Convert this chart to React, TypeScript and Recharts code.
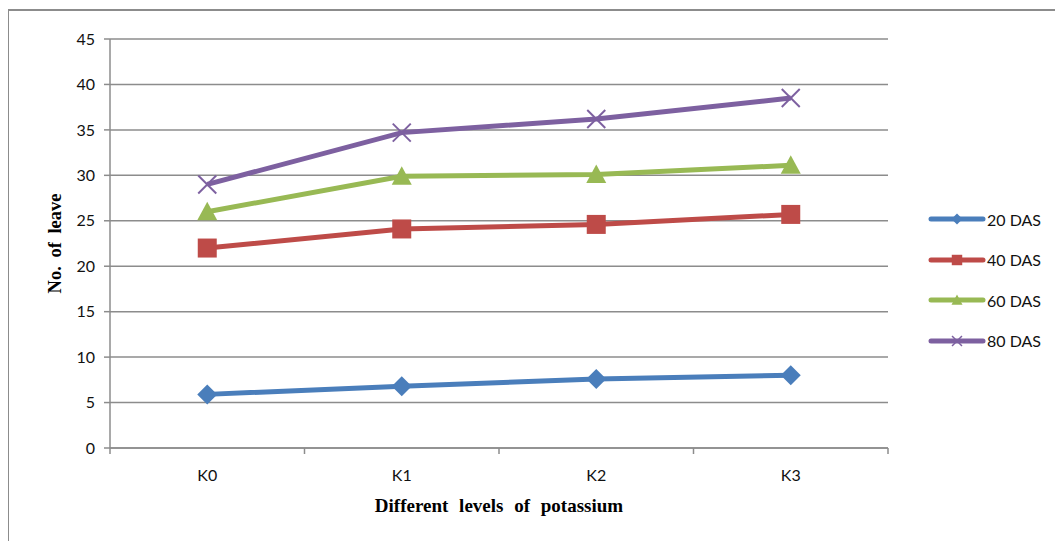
import { LineChart, Line, XAxis, YAxis, CartesianGrid, Legend } from 'recharts';

// Leaf counts per potassium level, one array per sampling date
const levels = ['K0', 'K1', 'K2', 'K3'];
const das20 = [5.9, 6.8, 7.6, 8.0];
const das40 = [22.0, 24.1, 24.6, 25.7];
const das60 = [26.0, 29.9, 30.1, 31.1];
const das80 = [29.0, 34.7, 36.2, 38.5];
const yTicks = [0, 5, 10, 15, 20, 25, 30, 35, 40, 45];

const GRID = '#8c8c8c';
const TICK_FONT = 'Lato, "Open Sans", sans-serif';
const TITLE_FONT = '"Liberation Serif", "Times New Roman", serif';

type Marker = 'diamond' | 'square' | 'triangle' | 'cross';

const series: { key: string; name: string; color: string; marker: Marker }[] = [
  { key: 's20', name: '20 DAS', color: '#4a7ebb', marker: 'diamond' },
  { key: 's40', name: '40 DAS', color: '#be4b48', marker: 'square' },
  { key: 's60', name: '60 DAS', color: '#98b954', marker: 'triangle' },
  { key: 's80', name: '80 DAS', color: '#7d60a0', marker: 'cross' },
];

// each category sits in the middle of its unit-wide slot on a numeric axis
const data = levels.map((level, i) => ({
  level,
  pos: i + 0.5,
  s20: das20[i],
  s40: das40[i],
  s60: das60[i],
  s80: das80[i],
}));

// integer ticks mark slot boundaries, half ticks carry the labels
const xTicks = [...levels.flatMap((_, i) => [i, i + 0.5]), levels.length];

function MarkerShape({ type, cx, cy, color, scale = 1 }: { type: Marker; cx: number; cy: number; color: string; scale?: number }) {
  const s = scale;
  if (type === 'diamond') {
    const r = 10 * s;
    return <polygon points={`${cx},${cy - r} ${cx + r},${cy} ${cx},${cy + r} ${cx - r},${cy}`} fill={color} />;
  }
  if (type === 'square') {
    const r = 9.5 * s;
    return <rect x={cx - r} y={cy - r} width={r * 2} height={r * 2} fill={color} />;
  }
  if (type === 'triangle') {
    return (
      <polygon
        points={`${cx},${cy - 10 * s} ${cx + 10 * s},${cy + 8.5 * s} ${cx - 10 * s},${cy + 8.5 * s}`}
        fill={color}
      />
    );
  }
  const r = 9 * s;
  return (
    <g stroke={color} strokeWidth={2 * Math.max(s, 0.75)}>
      <line x1={cx - r} y1={cy - r} x2={cx + r} y2={cy + r} />
      <line x1={cx - r} y1={cy + r} x2={cx + r} y2={cy - r} />
    </g>
  );
}

function makeDot(type: Marker, color: string) {
  return (props: any) => {
    const { cx, cy, index } = props;
    if (cx == null || cy == null) return <g key={`d-${index}`} />;
    return (
      <g key={`${type}-${index}`}>
        <MarkerShape type={type} cx={cx} cy={cy} color={color} />
      </g>
    );
  };
}

function LevelTick({ x, y, payload }: any) {
  const v = payload.value as number;
  if (Number.isInteger(v)) {
    return <line x1={x} y1={y - 6} x2={x} y2={y} stroke={GRID} strokeWidth={1.5} />;
  }
  return (
    <text x={x} y={y + 27} textAnchor="middle" fill="#111" fontSize={16} fontFamily={TICK_FONT}>
      {levels[Math.floor(v)]}
    </text>
  );
}

function YTitle({ viewBox }: any) {
  const cx = viewBox.x + 35;
  const cy = viewBox.y + viewBox.height / 2;
  return (
    <text
      x={cx}
      y={cy}
      transform={`rotate(-90 ${cx} ${cy})`}
      textAnchor="middle"
      dominantBaseline="central"
      fontFamily={TITLE_FONT}
      fontWeight="bold"
      fontSize={18.5}
      wordSpacing={4}
      fill="#000"
    >
      No. of leave
    </text>
  );
}

function XTitle({ viewBox }: any) {
  return (
    <text
      x={viewBox.x + viewBox.width / 2}
      y={viewBox.y + 57}
      textAnchor="middle"
      dominantBaseline="central"
      fontFamily={TITLE_FONT}
      fontWeight="bold"
      fontSize={19}
      wordSpacing={6}
      fill="#000"
    >
      Different levels of potassium
    </text>
  );
}

function SeriesLegend() {
  return (
    <div>
      {series.map((s) => (
        <div key={s.key} style={{ display: 'flex', alignItems: 'center', height: 40.5 }}>
          <svg width={58} height={20}>
            <line x1={3} y1={10} x2={55} y2={10} stroke={s.color} strokeWidth={5} strokeLinecap="round" />
            <MarkerShape type={s.marker} cx={29} cy={10} color={s.color} scale={0.55} />
          </svg>
          <span style={{ fontFamily: TICK_FONT, fontSize: 16, color: '#111', marginLeft: 1 }}>{s.name}</span>
        </div>
      ))}
    </div>
  );
}

export default function App() {
  return (
    <div
      style={{
        width: 1056,
        height: 532,
        marginLeft: -1,
        position: 'relative',
        top: 1,
        borderLeft: `2px solid ${GRID}`,
        borderTop: `2px solid ${GRID}`,
        background: '#fff',
        overflow: 'hidden',
      }}
    >
      <LineChart width={1054} height={530} data={data} margin={{ top: 28, right: 175, bottom: 23, left: 11 }}>
        <CartesianGrid vertical={false} stroke={GRID} strokeWidth={1.5} />
        <XAxis
          dataKey="pos"
          type="number"
          domain={[0, levels.length]}
          ticks={xTicks}
          interval={0}
          tick={<LevelTick />}
          tickLine={false}
          tickSize={6}
          tickMargin={0}
          height={70}
          axisLine={{ stroke: GRID, strokeWidth: 1.5 }}
          label={<XTitle />}
        />
        <YAxis
          domain={[0, 45]}
          ticks={yTicks}
          interval={0}
          width={90}
          tickSize={6}
          tickMargin={9}
          tick={{ fill: '#111', fontSize: 16, fontFamily: TICK_FONT }}
          tickLine={{ stroke: GRID, strokeWidth: 1.5 }}
          axisLine={{ stroke: GRID, strokeWidth: 1.5 }}
          label={<YTitle />}
        />
        <Legend
          layout="horizontal"
          verticalAlign="middle"
          align="center"
          content={<SeriesLegend />}
          wrapperStyle={{ position: 'absolute', left: 919, top: 188, width: 130 }}
        />
        {series.map((s) => (
          <Line
            key={s.key}
            type="linear"
            dataKey={s.key}
            name={s.name}
            stroke={s.color}
            strokeWidth={5}
            dot={makeDot(s.marker, s.color)}
            activeDot={false}
            isAnimationActive={false}
          />
        ))}
      </LineChart>
    </div>
  );
}
